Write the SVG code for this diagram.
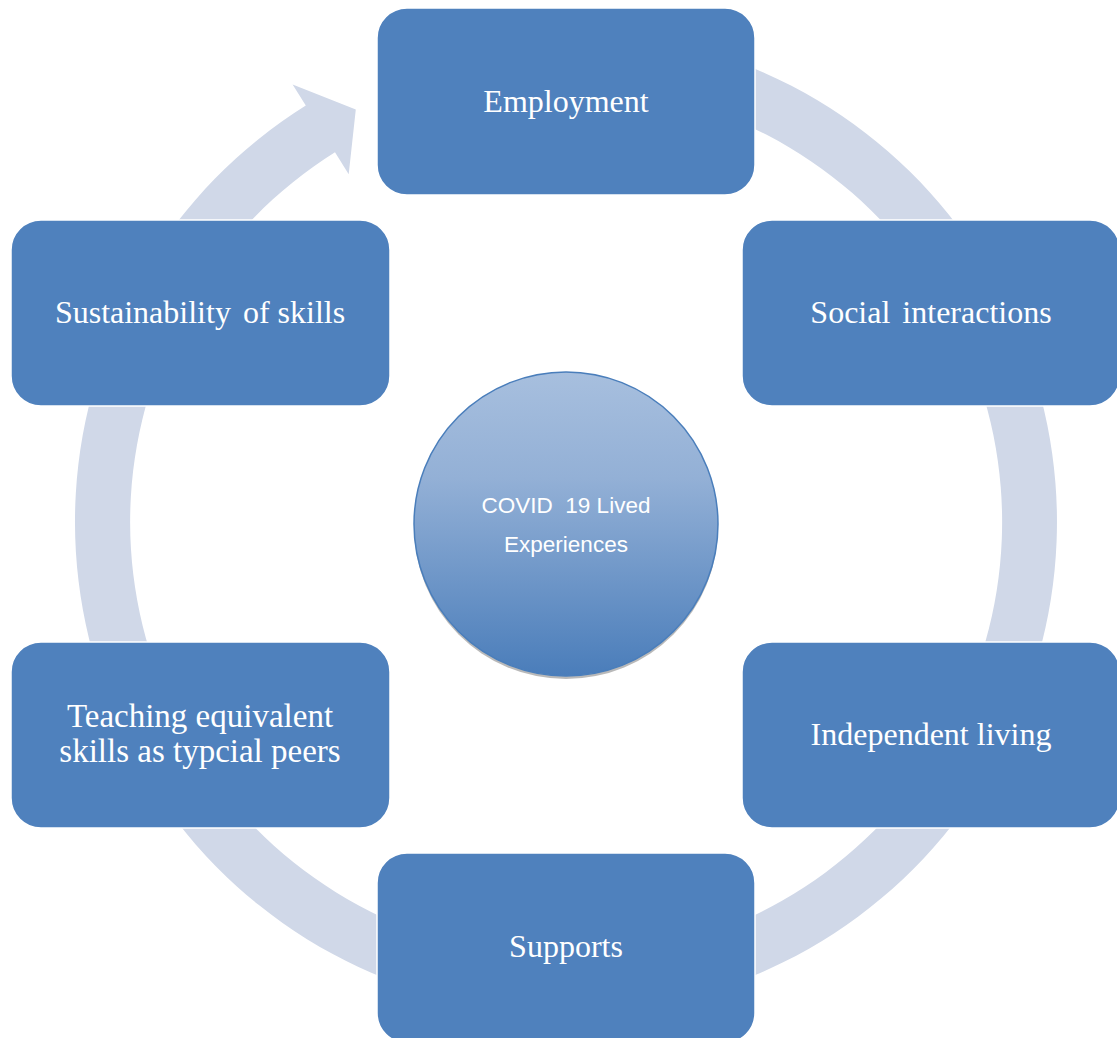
<svg xmlns="http://www.w3.org/2000/svg" width="1117" height="1038" viewBox="0 0 1117 1038">
<style>
text{white-space:pre}
.box{fill:#4F81BD;stroke:#ffffff;stroke-width:1.5}
.lbl{fill:#ffffff;font-family:"Liberation Serif","Times New Roman",serif;font-size:32px;text-anchor:middle}
.lbl2{fill:#ffffff;font-family:"Liberation Serif","Times New Roman",serif;font-size:33px;text-anchor:middle}
.ctr{fill:#ffffff;font-family:"Liberation Sans",Arial,sans-serif;font-size:22.5px;text-anchor:middle}
</style>
<defs>
<linearGradient id="cg" x1="0" y1="0" x2="0" y2="1">
<stop offset="0" stop-color="#A7BFDE"/>
<stop offset="0.35" stop-color="#93B0D6"/>
<stop offset="1" stop-color="#4A7DBA"/>
</linearGradient>
</defs>
<g id="connectors">
<path d="M566,31 A491,491 0 1 1 305.8,105.6 L292.6,84.4 L355.8,109.5 L348.7,174.3 L335,152.3 A436,436 0 1 0 566,86 Z" fill="#D0D8E8"/>
</g>
<g id="center">
<circle cx="566" cy="527" r="152" fill="#8A8A8A" opacity="0.6"/>
<circle cx="566" cy="524" r="152" fill="url(#cg)" stroke="#4A7EBB" stroke-width="1.5"/>
<text class="ctr" x="566" y="513" xml:space="preserve">COVID  19 Lived</text>
<text class="ctr" x="566" y="552">Experiences</text>
</g>
<g id="employment">
<rect class="box" x="377" y="8" width="378" height="187" rx="30"/>
<text class="lbl" x="566" y="112">Employment</text>
</g>
<g id="social">
<rect class="box" x="742" y="220" width="378" height="186" rx="30"/>
<text class="lbl" x="931" y="323">Social<tspan dx="4"> interactions</tspan></text>
</g>
<g id="independent">
<rect class="box" x="742" y="642" width="378" height="186" rx="30"/>
<text class="lbl" x="931" y="745">Independent living</text>
</g>
<g id="supports">
<rect class="box" x="377" y="853" width="378" height="190" rx="30"/>
<text class="lbl" x="566" y="957">Supports</text>
</g>
<g id="teaching">
<rect class="box" x="11" y="642" width="379" height="186" rx="30"/>
<text class="lbl2" x="200" y="727">Teaching equivalent</text>
<text class="lbl2" x="200" y="762">skills as typcial peers</text>
</g>
<g id="sustainability">
<rect class="box" x="11" y="220" width="379" height="186" rx="30"/>
<text class="lbl" x="200" y="323">Sustainability<tspan dx="4"> of skills</tspan></text>
</g>
</svg>
